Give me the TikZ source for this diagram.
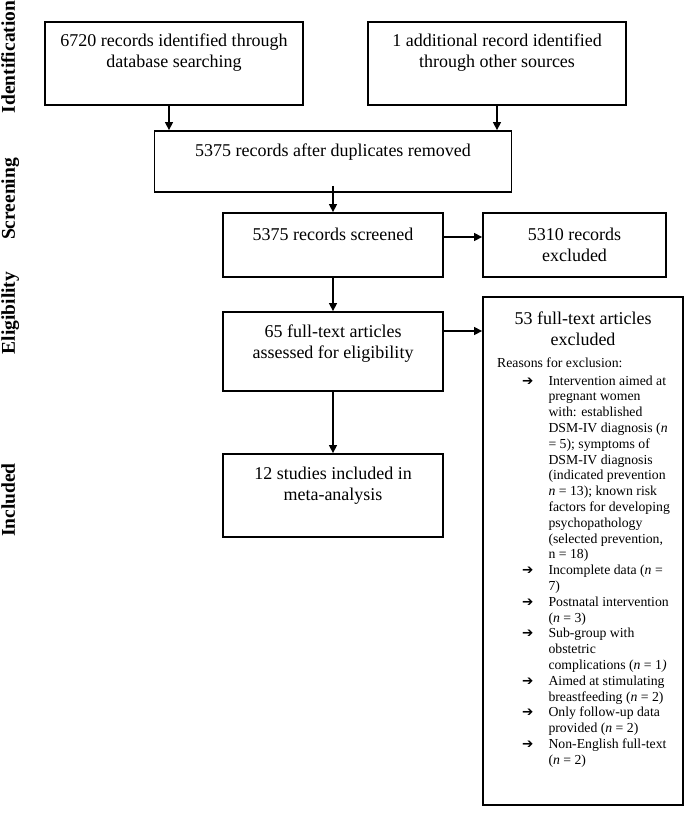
\documentclass[tikz,border=0pt]{standalone}
\usepackage{fontspec}
\setmainfont{Liberation Serif}
\newfontfamily\symfont{DejaVu Sans}
\usetikzlibrary{arrows.meta}
\tikzset{
    box/.style={draw, line width=1.8pt, inner sep=0pt},
    boxtext/.style={align=center, inner sep=0pt, font=\fontsize{18}{21}\selectfont},
    listtext/.style={anchor=base west, inner sep=0pt, font=\fontsize{13.75}{15.8}\selectfont},
    phase/.style={rotate=90, anchor=base, inner sep=0pt, font=\fontsize{19.5}{22}\selectfont\bfseries},
    flow/.style={line width=1.4pt, -{Triangle[length=8pt,width=8pt]}},
}
\newcommand{\reasonarrow}{{\symfont\bfseries\fontsize{13.5}{13.5}\selectfont ➔}}

\begin{document}
\begin{tikzpicture}[x=1pt,y=-1pt]
    \useasboundingbox (0,0) rectangle (685,815);
    % phases on the left
    \node[phase] (ident) at (15,57) {Identification};
    \node[phase] (screen) at (15,199) {Screening};
    \node[phase] (elig) at (15,313) {Eligibility};
    \node[phase] (incl) at (15,500) {Included};

    \node[box, minimum width=258pt, minimum height=83pt] (dbsearch) at (174,63.5) {};
    \node[box, minimum width=258pt, minimum height=83pt] (other) at (497,63.5) {};
    \node[box, minimum width=357pt, minimum height=61pt] (dedup) at (333,161.5) {};
    \node[box, minimum width=220pt, minimum height=64pt] (screened) at (333,245) {};
    \node[box, minimum width=183pt, minimum height=64pt] (excl1) at (574.5,245) {};
    \node[box, minimum width=220pt, minimum height=79pt] (fulltext) at (333,351.5) {};
    \node[box, minimum width=200pt, minimum height=508pt] (excl2) at (583,551) {};
    \node[box, minimum width=220pt, minimum height=83pt] (included) at (333,495.5) {};

    \node[boxtext] (dbsearch-txt) at (174,53) {6720 records identified through\\database searching};
    \node[boxtext] (other-txt) at (497,53) {1 additional record identified\\through other sources};
    \node[boxtext] (dedup-txt) at (333,152) {5375 records after duplicates removed};
    \node[boxtext] (screened-txt) at (333,234) {5375 records screened};
    \node[boxtext] (excl1-txt) at (574.5,245) {5310 records\\excluded};
    \node[boxtext] (fulltext-txt) at (333,344) {65 full-text articles\\assessed for eligibility};
    \node[boxtext] (excl2-txt) at (583,329) {53 full-text articles\\excluded};
    \node[boxtext] (included-txt) at (333,486) {12 studies included in\\meta-analysis};

    \node[listtext] (reasons-head) at (497,367) {Reasons for exclusion:};
    \node[listtext] (reasons) at (497,385) {\begin{tabular}[t]{@{\hspace{25pt}}l@{\hspace{15pt}}l@{}}
        \reasonarrow & Intervention aimed at\\
        & pregnant women\\
        & with: established\\
        & DSM-IV diagnosis (\textit{n}\\
        & = 5); symptoms of\\
        & DSM-IV diagnosis\\
        & (indicated prevention\\
        & \textit{n} = 13); known risk\\
        & factors for developing\\
        & psychopathology\\
        & (selected prevention,\\
        & n = 18)\\
        \reasonarrow & Incomplete data (\textit{n} =\\
        & 7)\\
        \reasonarrow & Postnatal intervention\\
        & (\textit{n} = 3)\\
        \reasonarrow & Sub-group with\\
        & obstetric\\
        & complications (\textit{n} = 1\textit{)}\\
        \reasonarrow & Aimed at stimulating\\
        & breastfeeding (\textit{n} = 2)\\
        \reasonarrow & Only follow-up data\\
        & provided (\textit{n} = 2)\\
        \reasonarrow & Non-English full-text\\
        & (\textit{n} = 2)
    \end{tabular}};

    % connectors
    \draw[flow] ([xshift=-5pt]dbsearch.south) -- ([xshift=-5pt]dbsearch.south |- dedup.north);
    \draw[flow] (other.south) -- (other.south |- dedup.north);
    \draw[flow] ([yshift=7pt]dedup.south) -- (screened.north);
    \draw[flow] ([yshift=8pt]screened.east) -- ([yshift=8pt]excl1.west);
    \draw[flow] (screened.south) -- (fulltext.north);
    \coordinate (f2g) at ([yshift=20.5pt]fulltext.east);
    \draw[flow] (f2g) -- (f2g -| excl2.west);
    \draw[flow] (fulltext.south) -- (included.north);
\end{tikzpicture}
\end{document}
